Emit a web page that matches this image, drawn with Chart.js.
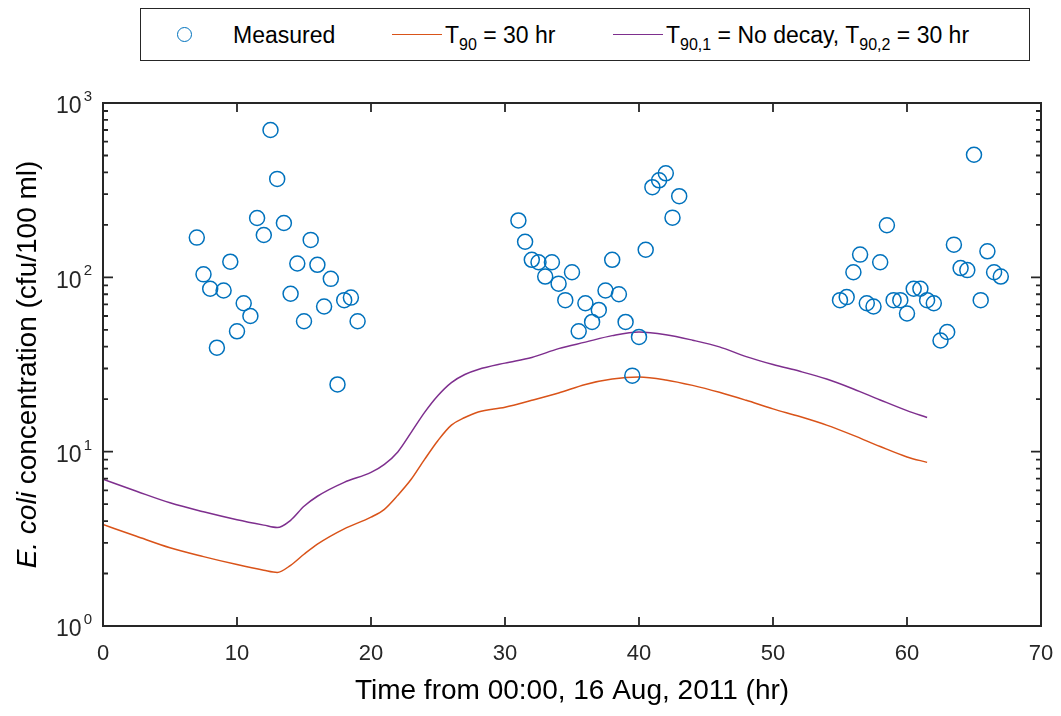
<!DOCTYPE html>
<html>
<head>
<meta charset="utf-8">
<script src="https://cdn.jsdelivr.net/npm/chart.js@4"></script>
<style>
  body { margin: 0; background: #fff; }
  #wrap { position: relative; width: 1061px; height: 716px; }
  #legend { position: absolute; left: 140px; top: 8px; width: 888px; height: 51px;
    border: 1px solid #262626; background: #fff; font-family: "Liberation Sans", Arial, sans-serif;
    font-size: 23px; color: #000; }
  #legend .it { position: absolute; top: 13px; white-space: nowrap; }
  #legend sub { font-size: 16px; vertical-align: -7px; line-height: 0; }
  #legend .ln { position: absolute; top: 25px; height: 0; width: 50px; border-top: 1.5px solid; }
  #legend .mk { position: absolute; left: 36px; top: 18px; width: 13px; height: 13px;
    border: 1.5px solid #0072BD; border-radius: 50%; }
</style>
</head>
<body>
<div id="wrap">
  <canvas id="mycanvas" width="1061" height="716"></canvas>
  <div id="legend">
    <div class="mk"></div>
    <div class="it" style="left:92px">Measured</div>
    <div class="ln" style="left:251px; border-color:#D95319"></div>
    <div class="it" style="left:304px">T<sub>90</sub> = 30 hr</div>
    <div class="ln" style="left:472px; border-color:#7E2F8E"></div>
    <div class="it" style="left:525px">T<sub>90,1</sub> = No decay, T<sub>90,2</sub> = 30 hr</div>
  </div>
</div>
<script>
// measured E. coli samples
var sampleTime = [7, 7.5, 8, 8.5, 9, 9.5, 10, 10.5, 11, 11.5, 12, 12.5, 13, 13.5, 14, 14.5, 15, 15.5, 16, 16.5, 17, 17.5, 18, 18.5, 19,
  31, 31.5, 32, 32.5, 33, 33.5, 34, 34.5, 35, 35.5, 36, 36.5, 37, 37.5, 38, 38.5, 39, 39.5, 40, 40.5, 41, 41.5, 42, 42.5, 43,
  55, 55.5, 56, 56.5, 57, 57.5, 58, 58.5, 59, 59.5, 60, 60.5, 61, 61.5, 62, 62.5, 63, 63.5, 64, 64.5, 65, 65.5, 66, 66.5, 67];
var sampleConc = [169, 104, 86, 39.5, 84, 123, 49, 71, 60, 219, 175, 700, 367, 205, 80.5, 120, 56, 164, 118, 68, 98, 24.3, 74, 76.5, 56,
  212, 160, 126, 122, 101, 122, 92, 74, 107, 49, 71, 55.5, 65, 84, 126, 80, 55.5, 27.3, 45.5, 144, 329, 360, 395, 220, 292,
  74, 77, 107, 135, 71, 68, 122, 199, 74, 74, 62, 86, 86, 74, 71, 43.4, 48.6, 154, 113, 110, 505, 74, 141, 107, 101];

// model curves
var modelTime = [0, 2.5, 5, 7.5, 10, 12, 13, 14, 15, 16, 18, 20, 21, 22, 23, 24, 25, 26, 27, 28, 30, 32, 34, 36, 38, 40,
  42, 44, 46, 48, 50, 52, 54, 56, 58, 60, 61.5];
var concT90 = [3.82, 3.27, 2.81, 2.50, 2.25, 2.09, 2.03, 2.23, 2.58, 2.95, 3.61, 4.21, 4.67, 5.62, 6.94, 9.03, 11.6, 14.2,
  15.7, 16.9, 18.0, 19.7, 21.7, 24.3, 26.1, 26.8, 25.8, 24.0, 21.9, 19.7, 17.6, 15.9, 14.2, 12.4, 10.7, 9.33, 8.68];
var concNoDecay = [6.94, 5.93, 5.09, 4.52, 4.07, 3.79, 3.67, 4.04, 4.86, 5.55, 6.67, 7.61, 8.46, 9.97, 12.9, 16.8, 21.0,
  24.9, 27.7, 29.6, 32.2, 34.7, 39.0, 42.5, 46.3, 48.6, 46.9, 43.6, 39.9, 35.1, 31.6, 28.9, 26.1, 22.9, 19.8, 17.2, 15.7];

var xTicks = [0, 10, 20, 30, 40, 50, 60, 70];
var yDecades = [1, 10, 100, 1000];

function pts(xs, ys) {
  var out = [];
  for (var i in xs) out.push({ x: xs[i], y: ys[i] });
  return out;
}

var axisColor = '#262626';
var fontFam = '"Liberation Sans", Arial, sans-serif';

var frame = {
  id: 'frame',
  afterDatasetsDraw: function(chart) {
    var ctx = chart.ctx, a = chart.chartArea;
    var xs = chart.scales.x, ys = chart.scales.y;
    ctx.save();
    ctx.strokeStyle = axisColor;
    ctx.lineWidth = 1.8;
    ctx.beginPath();
    xTicks.forEach(function(v) {
      var px = xs.getPixelForValue(v);
      ctx.moveTo(px, a.bottom); ctx.lineTo(px, a.bottom - 9);
      ctx.moveTo(px, a.top); ctx.lineTo(px, a.top + 9);
    });
    for (var d = 0; d < yDecades.length; d++) {
      for (var m = 1; m <= 9; m++) {
        var v = yDecades[d] * m;
        if (v > 1000) break;
        var py = ys.getPixelForValue(v);
        var len = m == 1 ? 10 : 5;
        ctx.moveTo(a.left, py); ctx.lineTo(a.left + len, py);
        ctx.moveTo(a.right, py); ctx.lineTo(a.right - len, py);
      }
    }
    ctx.stroke();
    ctx.lineWidth = 2;
    ctx.strokeRect(a.left, a.top, a.right - a.left, a.bottom - a.top);

    // y tick labels 10^n
    ctx.fillStyle = axisColor;
    ctx.textAlign = 'right';
    ctx.textBaseline = 'middle';
    yDecades.forEach(function(v, i) {
      var py = ys.getPixelForValue(v);
      ctx.font = '15px ' + fontFam;
      var ew = ctx.measureText(String(i)).width;
      ctx.fillText(String(i), a.left - 11, py - 6);
      ctx.font = '23px ' + fontFam;
      ctx.fillText('10', a.left - 13 - ew, py + 4);
    });

    // y title with italic species name
    ctx.translate(28, (a.top + a.bottom) / 2);
    ctx.rotate(-Math.PI / 2);
    ctx.textAlign = 'left';
    ctx.fillStyle = '#000';
    var p1 = 'E. coli', p2 = ' concentration (cfu/100 ml)';
    ctx.font = 'italic 28px ' + fontFam;
    var w1 = ctx.measureText(p1).width;
    ctx.font = '28px ' + fontFam;
    var w2 = ctx.measureText(p2).width;
    var x0 = -(w1 + w2) / 2;
    ctx.font = 'italic 28px ' + fontFam;
    ctx.fillText(p1, x0, 0);
    ctx.font = '28px ' + fontFam;
    ctx.fillText(p2, x0 + w1, 0);
    ctx.restore();
  }
};

var ctx = document.getElementById('mycanvas');
var chart = new Chart(ctx, {
  type: 'scatter',
  data: {
    datasets: [
      {
        label: 'Measured',
        data: pts(sampleTime, sampleConc),
        borderColor: '#0072BD',
        backgroundColor: 'rgba(0,0,0,0)',
        borderWidth: 1.5,
        pointRadius: 7.5,
        order: 1
      },
      {
        label: 'T90 = 30 hr',
        data: pts(modelTime, concT90),
        showLine: true,
        borderColor: '#D95319',
        borderWidth: 1.5,
        pointRadius: 0,
        cubicInterpolationMode: 'monotone',
        order: 2
      },
      {
        label: 'T90,1 = No decay, T90,2 = 30 hr',
        data: pts(modelTime, concNoDecay),
        showLine: true,
        borderColor: '#7E2F8E',
        borderWidth: 1.5,
        pointRadius: 0,
        cubicInterpolationMode: 'monotone',
        order: 3
      }
    ]
  },
  options: {
    responsive: false,
    animation: false,
    layout: { padding: { left: 103, top: 103, right: 20, bottom: 0 } },
    plugins: { legend: { display: false }, tooltip: { enabled: false } },
    scales: {
      x: {
        type: 'linear', min: 0, max: 70,
        afterBuildTicks: function(s) { s.ticks = xTicks.map(function(v) { return { value: v }; }); },
        afterFit: function(s) { s.paddingLeft = 0; s.paddingRight = 0; },
        grid: { display: false, drawTicks: false },
        border: { display: false },
        ticks: { color: axisColor, padding: 15, font: { family: fontFam, size: 22 } },
        title: { display: true, text: 'Time from 00:00, 16 Aug, 2011 (hr)', color: '#000',
          padding: { top: -8, bottom: 8 }, font: { family: fontFam, size: 28 } }
      },
      y: {
        type: 'logarithmic', min: 1, max: 1000,
        display: false
      }
    }
  },
  plugins: [frame]
});
</script>
</body>
</html>
